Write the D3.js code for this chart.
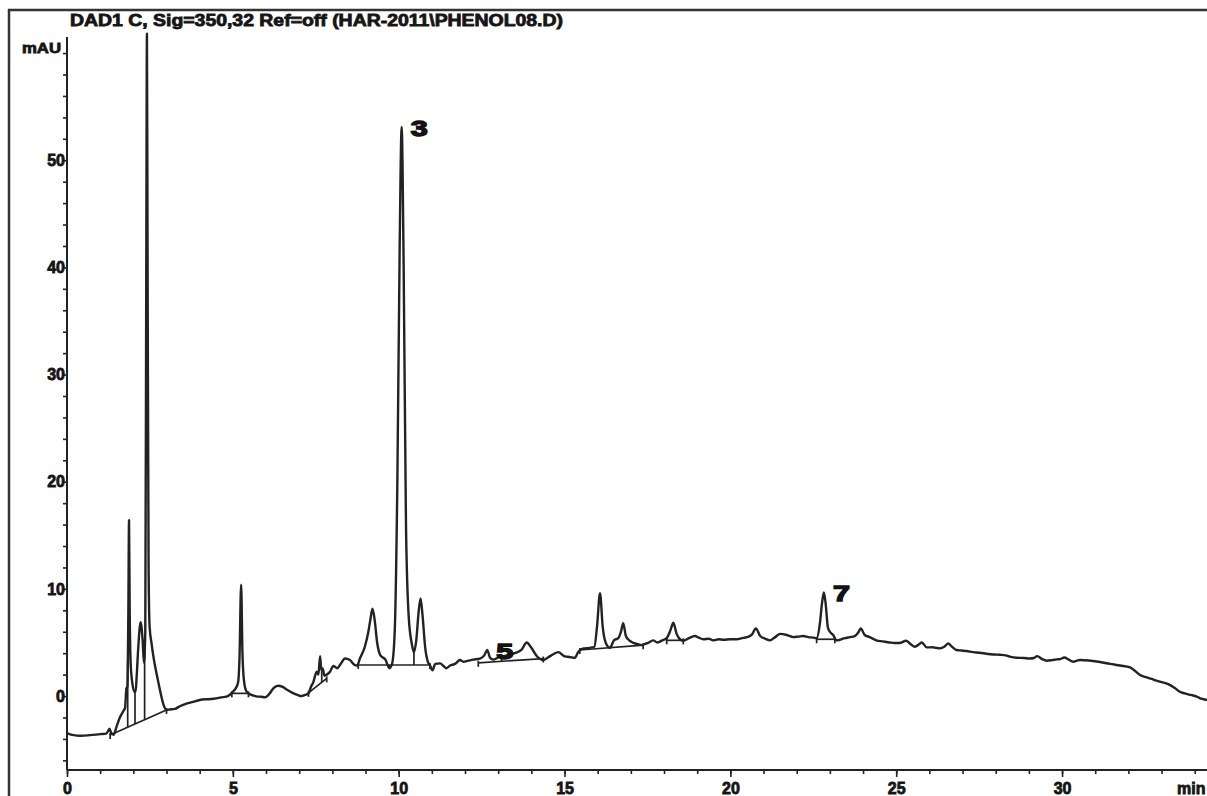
<!DOCTYPE html>
<html>
<head>
<meta charset="utf-8">
<script src="https://cdn.jsdelivr.net/npm/d3@7"></script>
<style>
  html, body { margin: 0; padding: 0; background: #ffffff; overflow: hidden; }
  svg { display: block; }
  text { font-family: "Liberation Sans", Arial, sans-serif; font-weight: bold; fill: #151515; }
</style>
</head>
<body>
<svg id="chart" width="1207" height="796"></svg>
<script>
// Chromatogram DAD1 C, 350 nm: retention time (min) and absorbance (mAU)
const retentionTimes = [
  0.00,0.20,0.40,0.70,1.00,1.18,1.25,1.28,1.33,1.40,
  1.50,1.60,1.70,1.75,1.79,1.82,1.85,1.87,1.89,1.92,
  1.97,2.03,2.07,2.10,2.15,2.22,2.28,2.32,2.36,2.39,
  2.41,2.43,2.46,2.49,2.55,2.62,2.70,2.78,2.85,2.92,
  3.00,3.10,3.25,3.40,3.60,3.80,4.00,4.20,4.35,4.50,
  4.65,4.80,4.90,5.00,5.10,5.16,5.20,5.25,5.29,5.33,
  5.40,5.50,5.62,5.75,5.85,5.97,6.10,6.22,6.37,6.50,
  6.62,6.80,6.95,7.07,7.18,7.28,7.36,7.43,7.48,7.53,
  7.58,7.63,7.67,7.71,7.76,7.83,7.93,8.03,8.15,8.25,
  8.38,8.53,8.65,8.75,8.83,8.98,9.08,9.15,9.21,9.28,
  9.35,9.45,9.60,9.72,9.80,9.88,9.96,10.03,10.09,10.15,
  10.22,10.30,10.40,10.46,10.53,10.60,10.66,10.72,10.80,10.88,
  10.94,11.02,11.10,11.25,11.35,11.44,11.55,11.70,11.85,11.95,
  12.10,12.25,12.45,12.58,12.67,12.75,12.85,13.00,13.20,13.50,
  13.70,13.86,14.00,14.18,14.36,14.50,14.66,14.81,15.01,15.15,
  15.31,15.41,15.57,15.75,15.90,15.98,16.07,16.15,16.25,16.37,
  16.49,16.62,16.70,16.77,16.85,16.95,17.05,17.20,17.32,17.45,
  17.52,17.67,17.80,17.95,18.08,18.20,18.28,18.38,18.48,18.58,
  18.75,18.93,19.05,19.18,19.35,19.48,19.65,19.80,20.00,20.19,
  20.35,20.50,20.64,20.77,20.90,21.05,21.19,21.35,21.50,21.70,
  21.90,22.05,22.20,22.35,22.50,22.60,22.70,22.76,22.82,22.88,
  22.94,23.00,23.10,23.20,23.35,23.45,23.60,23.75,23.85,23.93,
  24.05,24.20,24.40,24.60,24.80,24.95,25.10,25.30,25.45,25.56,
  25.70,25.77,25.92,26.10,26.20,26.32,26.45,26.57,26.70,26.82,
  26.97,27.12,27.32,27.52,27.72,27.93,28.13,28.30,28.45,28.63,
  28.85,29.03,29.15,29.25,29.40,29.54,29.70,29.84,29.95,30.07,
  30.20,30.34,30.45,30.54,30.80,31.10,31.45,31.75,32.05,32.20,
  32.35,32.55,32.70,32.85,33.00,33.20,33.40,33.55,33.70,33.80,
  33.95,34.06,34.20,34.37
];
const signalMAU = [
  -3.45,-3.65,-3.70,-3.65,-3.55,-3.50,-3.20,-3.05,-3.40,-3.62,
  -2.80,-1.95,-1.40,-1.10,0.70,0.90,8.0,16.4,8.0,3.0,
  1.2,0.4,0.4,1.8,4.6,6.9,5.2,3.1,6.0,40,
  61.8,40,12,6.5,4.9,3.4,2.1,0.9,-0.1,-0.9,
  -1.3,-1.25,-1.2,-0.95,-0.7,-0.55,-0.37,-0.3,-0.28,-0.22,
  -0.12,-0.06,0.1,0.4,0.8,1.3,3.5,10.4,4.0,1.6,
  0.5,0.2,0.05,-0.05,-0.06,-0.12,0.2,0.72,0.96,0.85,
  0.62,0.3,0.1,0.0,0.1,0.25,0.9,1.33,1.9,2.27,
  2.0,3.73,2.4,2.58,1.9,2.0,2.27,2.8,2.6,3.0,
  3.5,3.36,2.95,2.85,3.5,4.6,5.9,7.2,8.15,7.0,
  5.0,3.8,3.4,2.6,3.0,6.0,20,42,53.1,40,
  16,7.5,4.8,4.1,5.2,7.8,9.1,7.5,4.5,3.2,
  2.9,2.4,3.0,3.05,2.8,2.6,2.85,3.0,3.36,3.2,
  3.3,3.4,3.5,3.8,4.3,3.6,3.4,3.6,3.75,4.0,
  4.3,5.0,4.5,3.67,3.36,3.6,3.9,4.1,3.7,3.65,
  3.57,4.1,4.45,4.5,4.6,6.5,9.6,6.5,4.9,4.5,
  5.2,5.4,6.0,6.8,5.6,5.2,5.0,4.85,4.75,4.9,
  4.97,5.2,5.0,5.2,5.4,6.2,6.84,5.8,5.3,5.16,
  5.4,5.6,5.45,5.3,5.35,5.2,5.3,5.25,5.3,5.3,
  5.4,5.5,5.7,6.3,5.6,5.35,5.2,5.5,5.8,5.7,
  5.5,5.55,5.6,5.5,5.45,5.4,6.8,8.6,9.67,8.4,
  6.4,6.0,5.7,5.2,5.3,5.4,5.5,5.6,5.9,6.3,
  5.7,5.5,5.2,5.1,5.0,4.95,4.95,5.16,4.8,4.6,
  4.85,5.0,4.54,4.55,4.5,4.45,4.6,4.9,4.55,4.3,
  4.25,4.2,4.1,4.04,3.95,3.88,3.85,3.8,3.65,3.57,
  3.55,3.5,3.55,3.73,3.45,3.3,3.35,3.42,3.45,3.6,
  3.4,3.2,3.3,3.36,3.32,3.2,3.0,2.85,2.68,2.35,
  1.96,1.74,1.6,1.43,1.3,1.12,0.75,0.4,0.25,0.16,
  0.05,-0.06,-0.25,-0.37
];

// Integration baselines: start/end time and level of each segment
const baseStartT = [1.30, 4.97, 7.28, 8.78, 12.40, 15.46, 18.08, 22.60];
const baseStartV = [-3.64, 0.25, 0.30, 2.90, 3.10, 4.30, 5.20, 5.30];
const baseEndT   = [3.00, 5.47, 7.83, 10.94, 14.36, 17.37, 18.58, 23.15];
const baseEndV   = [-1.30, 0.25, 1.65, 2.90, 3.50, 4.75, 5.20, 5.30];

// Peak separation drop lines (min)
const dropTimes = [1.83, 2.05, 2.34, 7.68, 9.72, 10.46, 13.10, 16.37];

// Numbered peaks
const peakNumbers = ["3", "5", "7"];
const peakTimes   = [10.09, 12.67, 22.82];
const peakHeights = [53.1, 4.3, 9.67];

// Axis ticks
const xMinorTicks = d3.range(0, 35, 1);
const xMajorTicks = [0, 5, 10, 15, 20, 25, 30];
const yMinorTicks = d3.range(-6, 61, 2);
const yMajorTicks = [0, 10, 20, 30, 40, 50];

const title = "DAD1 C, Sig=350,32 Ref=off (HAR-2011\\PHENOL08.D)";
const inkColor = "#222222";

const svg = d3.select("#chart");

const x = d3.scaleLinear().domain([0, 34.37]).range([67, 1207]);
const y = d3.scaleLinear().domain([-6.9, 61.5]).range([770, 37]);

// Outer frame (left and top edges)
svg.append("line").attr("x1", 9).attr("x2", 9).attr("y1", 9).attr("y2", 796)
  .attr("stroke", "#333").attr("stroke-width", 2.5);
svg.append("line").attr("x1", 8).attr("x2", 1207).attr("y1", 10).attr("y2", 10)
  .attr("stroke", "#333").attr("stroke-width", 2.5);

// Title
svg.append("text")
  .attr("x", 70).attr("y", 26)
  .attr("font-size", 16)
  .attr("textLength", 493).attr("lengthAdjust", "spacingAndGlyphs")
  .attr("stroke", "#151515").attr("stroke-width", 0.8)
  .text(title);

// Y axis unit
svg.append("text")
  .attr("x", 22).attr("y", 53)
  .attr("font-size", 14)
  .attr("textLength", 39).attr("lengthAdjust", "spacingAndGlyphs")
  .attr("stroke", "#151515").attr("stroke-width", 0.8)
  .text("mAU");

// Y axis: minor ticks + labels
const yAxisG = svg.append("g").attr("transform", `translate(${x(0)},0)`);
yAxisG.call(d3.axisLeft(y).tickValues(yMinorTicks).tickSize(4).tickFormat(""));
yAxisG.select(".domain").remove();
yAxisG.selectAll(".tick line").attr("stroke", inkColor).attr("stroke-width", 1.6);
const yLabG = svg.append("g").attr("transform", `translate(${x(0)},0)`);
yLabG.call(d3.axisLeft(y).tickValues(yMajorTicks).tickSize(0).tickPadding(2).tickFormat(d3.format("d")));
yLabG.select(".domain").remove();
yLabG.selectAll("text")
  .attr("font-size", 16).attr("font-family", "Liberation Sans, Arial, sans-serif")
  .attr("font-weight", "bold").attr("fill", "#151515")
  .attr("stroke", "#151515").attr("stroke-width", 0.8);
svg.append("line").attr("x1", x(0)).attr("x2", x(0)).attr("y1", y.range()[1]).attr("y2", y.range()[0])
  .attr("stroke", inkColor).attr("stroke-width", 2);

// X axis: ticks + labels
const xAxisG = svg.append("g").attr("transform", `translate(0,${y.range()[0]})`);
xAxisG.call(d3.axisBottom(x).tickValues(xMinorTicks).tickSize(4).tickFormat(""));
xAxisG.select(".domain").remove();
xAxisG.selectAll(".tick line").attr("stroke", inkColor).attr("stroke-width", 1.6);
const xMajG = svg.append("g").attr("transform", `translate(0,${y.range()[0]})`);
xMajG.call(d3.axisBottom(x).tickValues(xMajorTicks).tickSize(7).tickFormat(d3.format("d")));
xMajG.select(".domain").remove();
xMajG.selectAll(".tick line").attr("stroke", inkColor).attr("stroke-width", 1.6);
xMajG.selectAll("text")
  .attr("y", 24).attr("dy", null)
  .attr("font-size", 16).attr("font-family", "Liberation Sans, Arial, sans-serif")
  .attr("font-weight", "bold").attr("fill", "#151515")
  .attr("stroke", "#151515").attr("stroke-width", 0.8);
svg.append("line").attr("x1", x.range()[0]).attr("x2", x.range()[1]).attr("y1", y.range()[0]).attr("y2", y.range()[0])
  .attr("stroke", inkColor).attr("stroke-width", 2);
svg.append("text")
  .attr("x", 1177).attr("y", y.range()[0] + 24)
  .attr("font-size", 16)
  .attr("stroke", "#151515").attr("stroke-width", 0.8)
  .text("min");

// Signal trace
const trace = retentionTimes.map((t, i) => ({ t, v: signalMAU[i] }));
const line = d3.line().x(d => x(d.t)).y(d => y(d.v)).curve(d3.curveMonotoneX);
svg.append("path")
  .datum(trace)
  .attr("d", line)
  .attr("fill", "none")
  .attr("stroke", inkColor)
  .attr("stroke-width", 2.4)
  .attr("stroke-linejoin", "round");

// Baseline segments
const segments = baseStartT.map((t0, i) => ({ t0, v0: baseStartV[i], t1: baseEndT[i], v1: baseEndV[i] }));
svg.append("g").selectAll("line.base")
  .data(segments).join("line")
  .attr("x1", d => x(d.t0)).attr("y1", d => y(d.v0))
  .attr("x2", d => x(d.t1)).attr("y2", d => y(d.v1))
  .attr("stroke", inkColor).attr("stroke-width", 1.7);

// Small marks at segment ends
const ends = segments.flatMap(s => [{ t: s.t0, v: s.v0 }, { t: s.t1, v: s.v1 }]);
svg.append("g").selectAll("line.mark")
  .data(ends).join("line")
  .attr("x1", d => x(d.t)).attr("x2", d => x(d.t))
  .attr("y1", d => y(d.v) - 2).attr("y2", d => y(d.v) + 4)
  .attr("stroke", inkColor).attr("stroke-width", 1.7);

// Drop lines from the trace to the baseline
const bis = d3.bisector(d => d.t).left;
function traceAt(t) {
  const i = Math.max(1, Math.min(trace.length - 1, bis(trace, t)));
  const a = trace[i - 1], b = trace[i];
  return a.v + (b.v - a.v) * (t - a.t) / (b.t - a.t);
}
function baseAt(t) {
  const s = segments.find(s => t >= s.t0 && t <= s.t1);
  return s.v0 + (s.v1 - s.v0) * (t - s.t0) / (s.t1 - s.t0);
}
svg.append("g").selectAll("line.drop")
  .data(dropTimes).join("line")
  .attr("x1", d => x(d)).attr("x2", d => x(d))
  .attr("y1", d => y(traceAt(d))).attr("y2", d => y(baseAt(d)))
  .attr("stroke", inkColor).attr("stroke-width", 1.7);

// Peak numbers
svg.append("g").selectAll("text.peak")
  .data(peakNumbers).join("text")
  .attr("x", (d, i) => x(peakTimes[i]) + 9)
  .attr("y", (d, i) => y(peakHeights[i]) + 9)
  .attr("font-size", 22)
  .attr("textLength", 17).attr("lengthAdjust", "spacingAndGlyphs")
  .attr("stroke", "#111").attr("stroke-width", 1.4)
  .attr("fill", "#111")
  .text(d => d);
</script>
</body>
</html>
